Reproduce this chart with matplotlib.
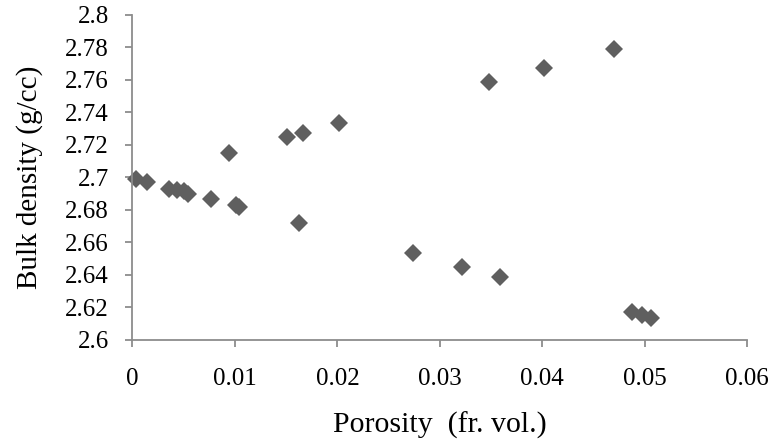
import matplotlib
matplotlib.use("Agg")
import matplotlib.pyplot as plt

porosity = [0.0003, 0.00145, 0.00356, 0.0043, 0.0050, 0.00545, 0.0077, 0.0101, 0.0104,
            0.00944, 0.01507, 0.01628, 0.0166, 0.0202, 0.0274, 0.0322, 0.0348, 0.03585,
            0.04015, 0.04695, 0.04876, 0.04968, 0.0506]
density = [2.699, 2.697, 2.693, 2.692, 2.6915, 2.690, 2.6865, 2.683, 2.682,
           2.715, 2.725, 2.672, 2.7276, 2.7337, 2.6533, 2.6447, 2.7585, 2.6386,
           2.7675, 2.7792, 2.617, 2.6154, 2.6137]

xticks = [0, 0.01, 0.02, 0.03, 0.04, 0.05, 0.06]
xticklabels = ["0", "0.01", "0.02", "0.03", "0.04", "0.05", "0.06"]
yticks = [2.6, 2.62, 2.64, 2.66, 2.68, 2.7, 2.72, 2.74, 2.76, 2.78, 2.8]
yticklabels = ["2.6", "2.62", "2.64", "2.66", "2.68", "2.7", "2.72", "2.74", "2.76", "2.78", "2.8"]

plt.rcParams['font.family'] = ['Liberation Serif', 'DejaVu Serif']

fig = plt.figure(figsize=(7.72, 4.46), dpi=100)
ax = fig.add_axes([0.1716, 0.2377, 0.968 - 0.1716, 0.9664 - 0.2377])
ax.plot(porosity, density, linestyle='none', marker='D', markersize=9.2,
        color='#5f5f5f', markeredgewidth=0, clip_on=False)

ax.set_xlim(0, 0.06)
ax.set_ylim(2.6, 2.8)
ax.set_xticks(xticks)
ax.set_xticklabels(xticklabels)
ax.set_yticks(yticks)
ax.set_yticklabels(yticklabels)

for s in ['top', 'right']:
    ax.spines[s].set_visible(False)
for s in ['left', 'bottom']:
    ax.spines[s].set_color('#8c8c8c')
    ax.spines[s].set_linewidth(1.3)
ax.tick_params(axis='both', direction='out', length=5, width=1.3, color='#8c8c8c',
               labelsize=18, labelcolor='black')
ax.tick_params(axis='x', pad=15)
ax.tick_params(axis='y', pad=12)

ax.set_xlabel('Porosity  (fr. vol.)', fontsize=21.5, labelpad=16)
ax.set_ylabel('Bulk density (g/cc)', fontsize=21, labelpad=16)

fig.savefig('out.png', dpi=100)
